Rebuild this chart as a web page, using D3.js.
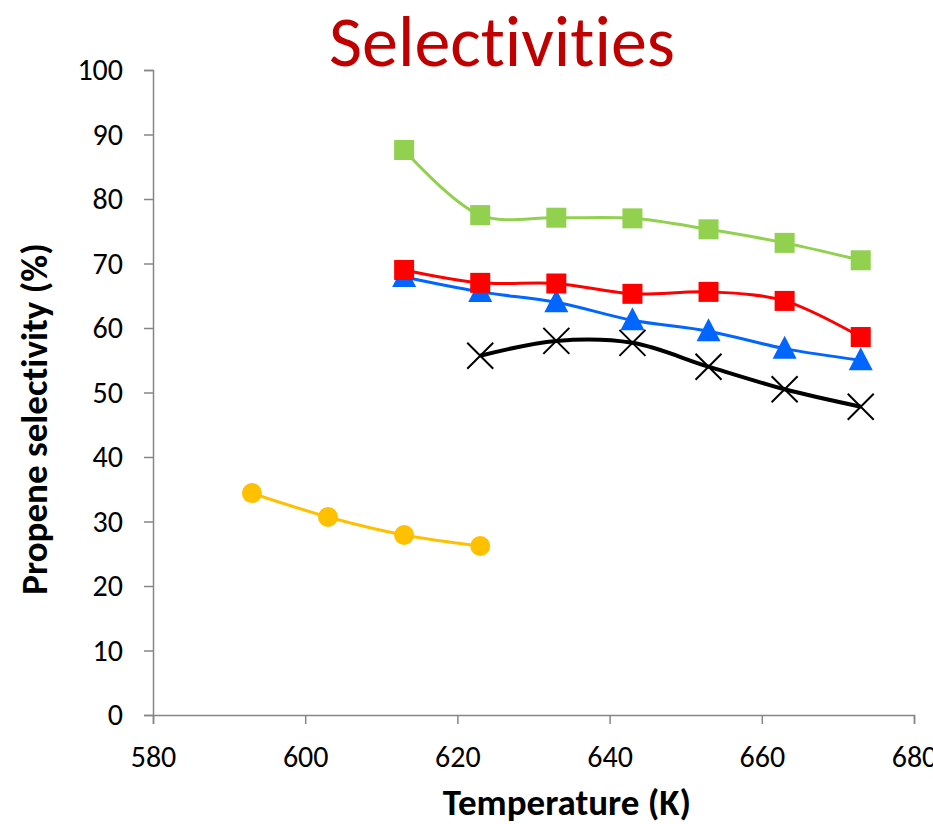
<!DOCTYPE html>
<html>
<head>
<meta charset="utf-8">
<script src="https://cdn.jsdelivr.net/npm/d3@7"></script>
<style>
  html, body { margin: 0; padding: 0; background: #fff; }
  svg text { font-family: Carlito, Calibri, Lato, "Open Sans", sans-serif; font-variant-ligatures: none; }
</style>
</head>
<body>
<svg id="chart" width="933" height="824"></svg>
<script>
// Temperatures (K) for each catalyst series
const tempsMain = [613, 623, 633, 643, 653, 663, 673];
const tempsCross = [623, 633, 643, 653, 663, 673];
const tempsCircle = [593, 603, 613, 623];

// Propene selectivity (%) per series
const greenSquares = [87.6, 77.5, 77.1, 77.0, 75.3, 73.2, 70.5];
const redSquares = [69.0, 67.0, 66.9, 65.3, 65.6, 64.2, 58.6];
const blueTriangles = [67.9, 65.6, 64.0, 61.2, 59.5, 56.8, 55.0];
const blackCrosses = [55.7, 58.0, 57.7, 54.0, 50.5, 47.8];
const yellowCircles = [34.4, 30.7, 27.9, 26.2];

const xTicks = [580, 600, 620, 640, 660, 680];
const yTicks = [0, 10, 20, 30, 40, 50, 60, 70, 80, 90, 100];

const svg = d3.select("#chart");
const margin = { left: 153, right: 19, top: 70, bottom: 109 };
const W = 933, H = 824;

const x = d3.scaleLinear().domain([580, 680]).range([margin.left, W - margin.right]);
const y = d3.scaleLinear().domain([0, 100]).range([H - margin.bottom, margin.top]);

const axisColor = "#868686";

// Axes
const gx = svg.append("g")
  .attr("transform", `translate(0,${y(0)})`)
  .call(d3.axisBottom(x).tickValues(xTicks).tickSize(9).tickPadding(22).tickFormat(d3.format("d")));
const gy = svg.append("g")
  .attr("transform", `translate(${x(580)},0)`)
  .call(d3.axisLeft(y).tickValues(yTicks).tickSize(9).tickPadding(21));
[gx, gy].forEach(g => {
  g.select(".domain").attr("stroke", axisColor).attr("stroke-width", 1.5);
  g.selectAll(".tick line").attr("stroke", axisColor).attr("stroke-width", 1.5);
  g.selectAll(".tick text").attr("fill", "#000").style("font-size", "30px");
});

// Series definitions
const series = [
  { xs: tempsCircle, ys: yellowCircles, color: "#FFC000", marker: "circle" },
  { xs: tempsCross, ys: blackCrosses, color: "#000000", marker: "cross" },
  { xs: tempsMain, ys: blueTriangles, color: "#0066FF", marker: "triangle" },
  { xs: tempsMain, ys: redSquares, color: "#FF0000", marker: "square" },
  { xs: tempsMain, ys: greenSquares, color: "#92D050", marker: "square" }
];

const line = d3.line()
  .x(d => x(d[0]))
  .y(d => y(d[1]))
  .curve(d3.curveCatmullRom.alpha(0.5));

series.forEach(s => {
  const pts = s.xs.map((t, i) => [t, s.ys[i]]);
  const g = svg.append("g");
  g.append("path")
    .datum(pts)
    .attr("d", line)
    .attr("fill", "none")
    .attr("stroke", s.color)
    .attr("stroke-width", s.marker === "cross" ? 4 : 3);

  const m = g.selectAll("g.pt").data(pts).enter().append("g")
    .attr("transform", d => `translate(${x(d[0])},${y(d[1])})`);
  if (s.marker === "square") {
    m.append("rect").attr("x", -10).attr("y", -10).attr("width", 20).attr("height", 20)
      .attr("fill", s.color);
  } else if (s.marker === "circle") {
    m.append("circle").attr("r", 10).attr("fill", s.color);
  } else if (s.marker === "triangle") {
    m.append("path").attr("d", "M0,-13 L12,10 L-12,10 Z").attr("fill", s.color);
  } else if (s.marker === "cross") {
    m.append("path").attr("d", "M-13,-13 L13,13 M13,-13 L-13,13")
      .attr("stroke", s.color).attr("stroke-width", 2).attr("fill", "none");
  }
});

// Title and axis labels
svg.append("text")
  .attr("x", 502).attr("y", 66)
  .attr("text-anchor", "middle")
  .attr("fill", "#C00000")
  .style("font-size", "72px")
  .text("Selectivities");

svg.append("text")
  .attr("x", 567).attr("y", 815)
  .attr("text-anchor", "middle")
  .style("font-size", "37px").style("font-weight", "bold")
  .text("Temperature (K)");

svg.append("text")
  .attr("transform", "translate(47,419) rotate(-90)")
  .attr("text-anchor", "middle")
  .style("font-size", "37px").style("font-weight", "bold")
  .text("Propene selectivity (%)");
</script>
</body>
</html>
